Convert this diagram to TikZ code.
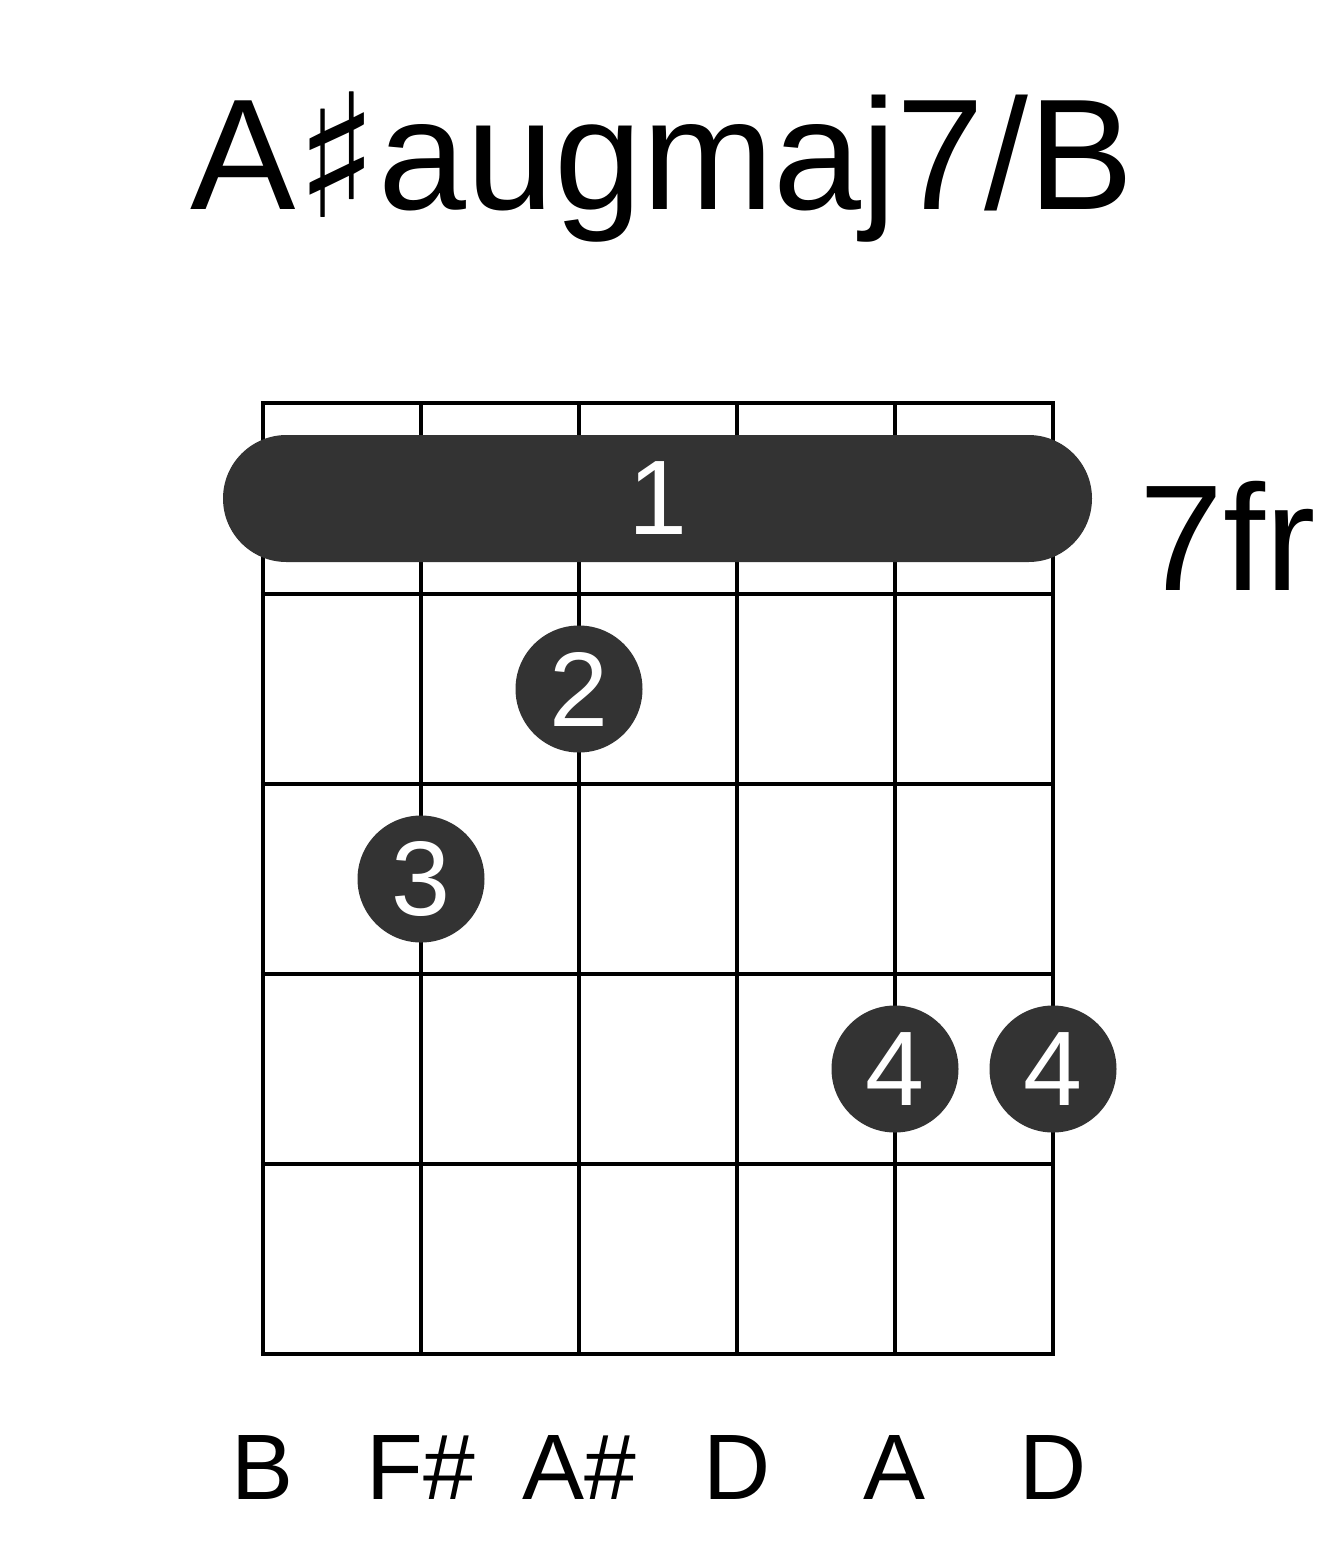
\documentclass[tikz,border=0pt]{standalone}
\usepackage{fontspec}
\setmainfont{Liberation Sans}
\newfontfamily\symfont{DejaVu Sans}
\definecolor{dotgray}{HTML}{333333}
\begin{document}
\begin{tikzpicture}[x=1pt,y=-1pt,
  gridline/.style={line width=4.5pt,black},
  fingerdot/.style={circle,fill=dotgray,minimum size=127pt,inner sep=0pt,text=white,font=\fontsize{106}{106}\selectfont},
  barrebox/.style={rectangle,rounded corners=63.5pt,fill=dotgray,minimum width=869pt,minimum height=127pt,inner sep=0pt,text=white,font=\fontsize{106}{106}\selectfont},
  notelabel/.style={anchor=base,inner sep=0pt,font=\fontsize{93}{93}\selectfont},
]
\useasboundingbox (0,0) rectangle (1317,1551);
\fill[white] (0,0) rectangle (1317,1551);
% title
\node[anchor=base,inner sep=0pt,font=\fontsize{158}{158}\selectfont] (title) at (662,209) {A{\symfont\fontsize{172}{172}\selectfont\raisebox{-8pt}{♯}}augmaj7/B};
% grid
\foreach \x in {263,421,579,737,895,1053} \draw[gridline] (\x,403) -- (\x,1354);
\foreach \y in {403,594,784,974,1164,1354} \draw[gridline] (260.75,\y) -- (1055.25,\y);
% barre
\node[barrebox] (barre) at (657.5,498.5) {1};
% fret label
\node[anchor=base west,inner sep=0pt,font=\fontsize{151}{151}\selectfont] (fret) at (1139,590) {7fr};
% fingers
\node[fingerdot] (f2) at (579,689) {2};
\node[fingerdot] (f3) at (421,879) {3};
\node[fingerdot] (f4a) at (895,1069) {4};
\node[fingerdot] (f4b) at (1053,1069) {4};
% notes
\node[notelabel] (n1) at (263,1499) {B};
\node[notelabel] (n2) at (421,1499) {F\#};
\node[notelabel] (n3) at (579,1499) {A\#};
\node[notelabel] (n4) at (737,1499) {D};
\node[notelabel] (n5) at (895,1499) {A};
\node[notelabel] (n6) at (1053,1499) {D};
\end{tikzpicture}
\end{document}
